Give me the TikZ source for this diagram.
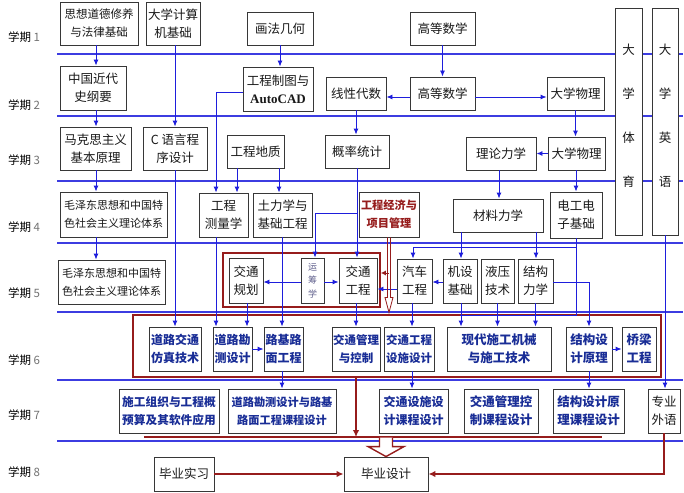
\documentclass[tikz,border=0pt]{standalone}
\usepackage{fontspec}
\setmainfont{Noto Sans CJK SC}
\newfontfamily\tnr{Liberation Serif}
\usetikzlibrary{arrows.meta,calc}
\definecolor{sepblue}{RGB}{60,60,225}
\definecolor{arrblue}{RGB}{30,30,220}
\definecolor{dred}{RGB}{150,28,28}
\definecolor{navy}{RGB}{25,45,150}
\definecolor{boxline}{RGB}{55,55,55}
\definecolor{ycgray}{RGB}{95,95,140}
\newcommand\myfs[1]{\fontsize{#1}{18}\selectfont}
\newcommand\myfsl[2]{\fontsize{#1}{#2}\selectfont}
\tikzset{
  box/.style={draw=boxline, line width=0.9pt, fill=white, inner sep=0pt,
    align=center, font=\myfs{12.5}, text=black!90},
  bbox/.style={box, font=\myfs{12}\bfseries, text=navy},
  arr/.style={draw=arrblue, line width=0.9pt, -{Latex[length=6pt,width=5pt]}},
  ln/.style={draw=arrblue, line width=0.9pt},
  sep/.style={draw=sepblue, line width=1.1pt},
  rarr/.style={draw=dred, line width=1.5pt, -{Latex[length=7pt,width=6.5pt]}},
  rframe/.style={draw=dred, line width=1.6pt, inner sep=0pt},
  lab/.style={font=\myfs{11.5}, inner sep=0pt},
}
\begin{document}
\begin{tikzpicture}[x=1pt,y=-1pt]
\useasboundingbox (0,0) rectangle (684,492);
\fill[white] (0,0) rectangle (684,492);

% semester separators
\foreach \yy in {54,116,181,243,312,380,441} \draw[sep] (57,\yy) -- (683,\yy);

% semester labels
\node[lab] (p1) at (24,37) {学期 \textcolor{black!55}{1}};
\node[lab] (p2) at (24,105) {学期 \textcolor{black!55}{2}};
\node[lab] (p3) at (24,160) {学期 \textcolor{black!55}{3}};
\node[lab] (p4) at (24,227) {学期 \textcolor{black!55}{4}};
\node[lab] (p5) at (24,293) {学期 \textcolor{black!55}{5}};
\node[lab] (p6) at (24,360) {学期 \textcolor{black!55}{6}};
\node[lab] (p7) at (24,415) {学期 \textcolor{black!55}{7}};
\node[lab] (p8) at (24,472) {学期 \textcolor{black!55}{8}};

% row 1
\node[box, minimum width=78, minimum height=43, font=\myfs{11.5}] (sxdd) at (99,23.5) {思想道德修养\\与法律基础};
\node[box, minimum width=54, minimum height=43] (jsj) at (173,23.5) {大学计算\\机基础};
\node[box, minimum width=66, minimum height=33] (hfjh) at (280,28.5) {画法几何};
\node[box, minimum width=65, minimum height=33] (gs1) at (442.5,28.5) {高等数学};
\node[box, minimum width=27, minimum height=227, font=\myfsl{12.5}{44}] (dxty) at (628.5,121.5) {大\\学\\体\\育\\[-32pt]\mbox{}};
\node[box, minimum width=26, minimum height=227, font=\myfsl{12.5}{44}] (dxyy) at (665,121.5) {大\\学\\英\\语\\[-32pt]\mbox{}};

% row 2
\node[box, minimum width=66, minimum height=44] (zgjd) at (93,88) {中国近代\\史纲要};
\node[box, minimum width=70, minimum height=44] (gczt) at (278,89) {工程制图与\\{\tnr\bfseries\fontsize{13}{18}\selectfont AutoCAD}};
\node[box, minimum width=60, minimum height=33] (xxds) at (356,93.5) {线性代数};
\node[box, minimum width=65, minimum height=33] (gs2) at (442.5,93.5) {高等数学};
\node[box, minimum width=57, minimum height=33] (wl1) at (575.5,93.5) {大学物理};

% row 3
\node[box, minimum width=71, minimum height=43] (mks) at (95.5,148.5) {马克思主义\\基本原理};
\node[box, minimum width=64, minimum height=43] (cyy) at (175,148.5) {C 语言程\\序设计};
\node[box, minimum width=57, minimum height=33] (gcdz) at (255.5,151.5) {工程地质};
\node[box, minimum width=64, minimum height=33] (gltj) at (357,151.5) {概率统计};
\node[box, minimum width=70, minimum height=33] (lllx) at (501,153.5) {理论力学};
\node[box, minimum width=57, minimum height=33] (wl2) at (576.5,153.5) {大学物理};

% row 4
\node[box, minimum width=107, minimum height=45, font=\myfs{11}] (mzd1) at (113.5,214.5) {毛泽东思想和中国特\\色社会主义理论体系};
\node[box, minimum width=49, minimum height=44] (gccl) at (223.5,215) {工程\\测量学};
\node[box, minimum width=59, minimum height=44] (tlx) at (282.5,215) {土力学与\\基础工程};
\node[box, minimum width=60, minimum height=45, font=\myfs{11.2}\bfseries, text=dred] (gcjj) at (389,214.5) {工程经济与\\项目管理};
\node[box, minimum width=90, minimum height=33] (cllx) at (498,215.5) {材料力学};
\node[box, minimum width=52, minimum height=46] (dgdz) at (576,215) {电工电\\子基础};

% row 5
\node[rframe, minimum width=157, minimum height=54] (rb5) at (301.5,280) {};
\node[box, minimum width=34, minimum height=45] (jtgh) at (246,280.5) {交通\\规划};
\node[box, minimum width=23, minimum height=45, font=\myfsl{9}{13.5}, text=ycgray] (ycx) at (312.5,280.5) {运\\筹\\学};
\node[box, minimum width=38, minimum height=45] (jtgc) at (358,280.5) {交通\\工程};
\node[box, minimum width=107, minimum height=44, font=\myfs{11}] (mzd2) at (111.5,282) {毛泽东思想和中国特\\色社会主义理论体系};
\node[box, minimum width=35, minimum height=44] (qcgc) at (414.5,281) {汽车\\工程};
\node[box, minimum width=34, minimum height=44] (jsjc) at (460,281) {机设\\基础};
\node[box, minimum width=33, minimum height=44] (yyjs) at (497.5,281) {液压\\技术};
\node[box, minimum width=35, minimum height=44] (jglx) at (535.5,281) {结构\\力学};

% row 6
\node[rframe, minimum width=528, minimum height=62] (rb6) at (397,346) {};
\node[bbox, minimum width=52, minimum height=44] (fzjs) at (175,349) {道路交通\\仿真技术};
\node[bbox, minimum width=39, minimum height=44] (dlkc) at (232.5,349) {道路勘\\测设计};
\node[bbox, minimum width=39, minimum height=44] (ljlm) at (283.5,349) {路基路\\面工程};
\node[bbox, minimum width=48, minimum height=44, font=\myfs{11.5}\bfseries] (jtgl) at (356,349) {交通管理\\与控制};
\node[bbox, minimum width=50, minimum height=44, font=\myfs{11.5}\bfseries] (ssjs) at (409,349) {交通工程\\设施设计};
\node[bbox, minimum width=104, minimum height=44, font=\myfs{12.5}\bfseries] (xdsg) at (499,349) {现代施工机械\\与施工技术};
\node[bbox, minimum width=46, minimum height=44, font=\myfs{12.5}\bfseries] (jgsj) at (589,349) {结构设\\计原理};
\node[bbox, minimum width=34, minimum height=44, font=\myfs{12.5}\bfseries] (qlgc) at (639,349) {桥梁\\工程};

% row 7
\node[bbox, minimum width=100, minimum height=44, font=\myfs{11.7}\bfseries] (sgzz) at (169,411) {施工组织与工程概\\预算及其软件应用};
\node[bbox, minimum width=108, minimum height=44, font=\myfs{11.2}\bfseries] (kcsj) at (282,411) {道路勘测设计与路基\\路面工程课程设计};
\node[bbox, minimum width=69, minimum height=44, font=\myfs{12}\bfseries] (sssj) at (413.5,411) {交通设施设\\计课程设计};
\node[bbox, minimum width=74, minimum height=44, font=\myfs{12.5}\bfseries] (gksj) at (501,411) {交通管理控\\制课程设计};
\node[bbox, minimum width=71, minimum height=44, font=\myfs{12.5}\bfseries] (jgkc) at (588.5,411) {结构设计原\\理课程设计};
\node[box, minimum width=32, minimum height=44] (zywy) at (664,411) {专业\\外语};

% row 8
\node[box, minimum width=60, minimum height=34] (bysx) at (184,474) {毕业实习};
\node[box, minimum width=84, minimum height=34] (bysj) at (386,474) {毕业设计};

% blue connectors
\draw[arr] (sxdd.south -| 96,0) -- (zgjd.north -| 96,0);
\draw[arr] (zgjd.south -| 96,0) -- (mks.north -| 96,0);
\draw[arr] (mks.south -| 96,0) -- (mzd1.north -| 96,0);
\draw[arr] (mzd1.south -| 96,0) -- (mzd2.north -| 96,0);
\draw[arr] (jsj.south -| 175,0) -- (cyy.north);
\draw[arr] (cyy.south) -- (fzjs.north);
\draw[arr] (hfjh.south) -- (gczt.north -| hfjh.south);
\draw[arr] (gczt.west |- 0,92) -| (gccl.north -| 216,0);
\draw[arr] (gs1.south) -- (gs2.north);
\draw[arr] (gs2.west |- 0,97) -- (xxds.east |- 0,97);
\draw[arr] (gs2.east |- 0,97) -- (wl1.west |- 0,97);
\draw[arr] (xxds.south) -- (gltj.north -| xxds.south);
\draw[arr] (wl1.south) -- (wl2.north -| wl1.south);
\draw[arr] (wl2.west) -- (lllx.east);
\draw[arr] (gcdz.south -| 237,0) -- (gccl.north -| 237,0);
\draw[arr] (gcdz.south -| 279,0) -- (tlx.north -| 279,0);
\draw[arr] (lllx.south -| 499,0) -- (cllx.north -| 499,0);
\draw[arr] (wl2.south -| 576,0) -- (dgdz.north -| 576,0);
\draw[arr] (gltj.south) -- (jtgc.north -| gltj.south);
\draw[arr] (gltj.south |- 0,213) -| (ycx.north -| 315,0);
\draw[arr] (ycx.west |- 0,282) -- (jtgh.east |- 0,282);
\draw[arr] (ycx.east |- 0,282) -- (jtgc.west |- 0,282);
\draw[arr] (qcgc.west |- 0,289) -- (jtgc.east |- 0,289);
\draw[arr] (jsjc.west |- 0,282) -- (qcgc.east |- 0,282);
\draw[arr] (cllx.south -| 461,0) -- (jsjc.north -| 461,0);
\draw[arr] (cllx.south -| 536,0) -- (jglx.north -| 536,0);
\draw[arr] (dgdz.south) -- (dgdz.south |- 0,247) -| (qcgc.north -| 413,0);
\draw[ln] (dgdz.south |- 0,247) -- (dgdz.south |- 0,315) -- (jsjc.south |- 0,315);
\draw[arr] (qcgc.south -| 412,0) -- (ssjs.north -| 412,0);
\draw[arr] (jsjc.south -| 461,0) -- (xdsg.north -| 461,0);
\draw[arr] (yyjs.south) -- (xdsg.north -| yyjs.south);
\draw[arr] (jglx.south) -- (xdsg.north -| jglx.south);
\draw[arr] (jglx.east |- 0,282) -| (jgsj.north);
\draw[arr] (jgsj.east) -- (qlgc.west);
\draw[arr] (jgsj.south) -- (jgkc.north -| jgsj.south);
\draw[arr] (gccl.south -| 216,0) -- (dlkc.north -| 216,0);
\draw[arr] (jtgh.south -| 247,0) -- (dlkc.north -| 247,0);
\draw[arr] (tlx.south -| 282,0) -- (ljlm.north -| 282,0);
\draw[arr] (jtgc.south -| 356,0) -- (jtgl.north -| 356,0);
\draw[arr] (dlkc.east) -- (ljlm.west);
\draw[arr] (ljlm.south -| 282,0) -- (kcsj.north -| 282,0);
\draw[arr] (ssjs.south -| 412,0) -- (sssj.north -| 412,0);
\draw[arr] (dxyy.south) -- (zywy.north -| dxyy.south);

% dark red connectors
\draw[dred, line width=0.8pt, shift={(gcjj.south)}] (-1.5,0) -- (-1.5,60) -- (-4,60) -- (0,75) -- (4,60) -- (1.5,60) -- (1.5,0);
\draw[draw=dred, line width=1pt, -{Latex[length=5pt,width=5pt]}] (gcjj.south |- 0,273) -- (rb5.east |- 0,273);
\coordinate (rl1) at (144,437);
\coordinate (rl2) at (602,437);
\draw[draw=dred, line width=1.5pt] (rl1) -- (rl2);
\draw[rarr] (rb6.south -| 356,0) -- (rl1 -| 356,0);
\draw[dred, line width=1.4pt, fill=white, line join=miter, shift={(bysj.north)}] (-6.5,-19) -- (-6.5,-10) -- (-18,-10) -- (0,0) -- (18,-10) -- (6.5,-10) -- (6.5,-19);
\draw[rarr] (bysx.east) -- (bysj.west);
\draw[rarr] (zywy.south) |- (bysj.east);
\end{tikzpicture}
\end{document}
